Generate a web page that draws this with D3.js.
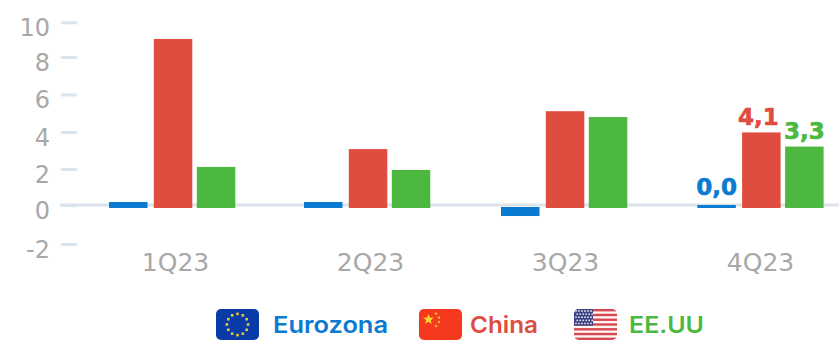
<!DOCTYPE html>
<html>
<head>
<meta charset="utf-8">
<script src="https://cdn.jsdelivr.net/npm/d3@7"></script>
<style>
html,body{margin:0;padding:0;background:#fff;overflow:hidden}
svg{display:block}
.tick text{font-family:"DejaVu Sans",sans-serif;fill:#a8a8a8}
.tick{opacity:0.999}
</style>
</head>
<body>
<svg id="chart" width="839" height="340"></svg>
<script>
const quarters = ["1Q23", "2Q23", "3Q23", "4Q23"];
const seriesNames = ["Eurozona", "China", "EE.UU"];
const seriesColors = ["#0b7ad1", "#df4c40", "#4cb840"];
const eurozona = [0.17, 0.17, -0.6, 0.0];
const china = [9.38, 3.16, 5.3, 4.1];
const eeuu = [2.15, 1.98, 4.97, 3.3];
const seriesValues = [eurozona, china, eeuu];
const yTicks = [-2, 0, 2, 4, 6, 8, 10];
const yTickPixels = [244, 205, 169, 132, 94.5, 57, 22.3];
const labelledQuarter = "4Q23";

const svg = d3.select("#chart");
const fmt = v => v.toFixed(1).replace(".", ",");

// Axis calibration and the bar scale
const yAxisScale = d3.scaleLinear().domain(yTicks).range(yTickPixels);
const yBar = d3.scaleLinear().domain([0, 10]).range([205, 28]);
const xGroup = d3.scaleOrdinal().domain(quarters).range([109, 304, 501, 697.3]);
const xInner = d3.scaleOrdinal().domain(seriesNames).range([0, 44.8, 87.8]);
const barW = 38.5;
const lineColor = "#dbe4ec";

// Vertical axis with short dashes
const yAxis = d3.axisLeft(yAxisScale).tickValues(yTicks).tickSize(16).tickPadding(11)
  .tickFormat(d => d);
const gy = svg.append("g").attr("transform", "translate(77,0)").call(yAxis);
gy.select(".domain").remove();
gy.selectAll(".tick line").attr("stroke", lineColor).attr("stroke-width", 3);
gy.selectAll(".tick text").attr("font-size", 24).attr("dy", "0.56em");

// Baseline across the plot
svg.append("line").attr("x1", 60).attr("x2", 839)
  .attr("y1", yBar(0)).attr("y2", yBar(0))
  .attr("stroke", lineColor).attr("stroke-width", 3);

// Category labels
const xLabels = d3.scalePoint().domain(quarters).range([175, 760]);
const gx = svg.append("g").attr("transform", "translate(0,271)")
  .call(d3.axisBottom(xLabels).tickSize(0).tickPadding(0));
gx.select(".domain").remove();
gx.selectAll(".tick text").attr("font-size", 25).attr("dy", 0);

// Bars, one group per series
seriesNames.forEach((name, si) => {
  svg.append("g").selectAll("rect")
    .data(seriesValues[si].map((v, i) => ({ v, q: quarters[i] })))
    .join("rect")
    .attr("x", d => xGroup(d.q) + xInner(name))
    .attr("width", barW)
    .attr("y", d => d.v >= 0 ? yBar(d.v) : yBar(0) + 2)
    .attr("height", d => d.v >= 0 ? yBar(0) + 3 - yBar(d.v) : yBar(d.v) - yBar(0) - 2 + 0.4)
    .attr("fill", seriesColors[si]);

  // Value label on the last quarter only
  const idx = quarters.indexOf(labelledQuarter);
  const v = seriesValues[si][idx];
  svg.append("text")
    .attr("x", xGroup(labelledQuarter) + xInner(name) + barW / 2 + [0, -3, 0][si])
    .attr("y", yBar(v) - [10, 7.5, 7.5][si])
    .attr("text-anchor", "middle")
    .attr("font-family", "'DejaVu Sans',sans-serif")
    .attr("font-weight", 700)
    .attr("font-size", 23)
    .attr("stroke", seriesColors[si])
    .attr("stroke-width", 0.6)
    .attr("fill", seriesColors[si])
    .text(fmt(v));
});

// Legend flags
function flagBase(x, id) {
  const g = svg.append("g").attr("transform", `translate(${x},309)`);
  g.append("clipPath").attr("id", id).append("rect")
    .attr("width", 43).attr("height", 31).attr("rx", 5);
  return g.append("g").attr("clip-path", `url(#${id})`);
}
function star(g, cx, cy, r, fill) {
  const pts = d3.range(10).map(i => {
    const a = -Math.PI / 2 + i * Math.PI / 5, rr = i % 2 ? r * 0.42 : r;
    return [cx + rr * Math.cos(a), cy + rr * Math.sin(a)];
  });
  g.append("polygon").attr("points", pts.join(" ")).attr("fill", fill);
}

const eu = flagBase(216, "clip-eu");
eu.append("rect").attr("width", 43).attr("height", 31).attr("fill", "#0a3aa5");
d3.range(12).forEach(i => {
  const a = i * Math.PI / 6;
  eu.append("rect")
    .attr("x", 21.5 + 10.6 * Math.cos(a) - 1.3)
    .attr("y", 15.5 + 10.6 * Math.sin(a) - 1.3)
    .attr("width", 2.6).attr("height", 2.6).attr("fill", "#e6c73c");
});

const cn = flagBase(419, "clip-cn");
cn.append("rect").attr("width", 43).attr("height", 31).attr("fill", "#f5391f");
star(cn, 9.5, 10.5, 5.6, "#fbd72b");
[[17, 4.5], [20, 8.5], [20, 13], [17, 17]].forEach(p => star(cn, p[0], p[1], 1.8, "#fbd72b"));

const us = flagBase(574, "clip-us");
us.append("rect").attr("width", 43).attr("height", 31).attr("fill", "#fdf6f4");
d3.range(7).forEach(i => {
  us.append("rect").attr("y", i * 4.77).attr("width", 43).attr("height", 2.4).attr("fill", "#d8474f");
});
us.append("rect").attr("width", 19).attr("height", 16.7).attr("fill", "#3a4384");
d3.range(5).forEach(r => d3.range(6).forEach(c => {
  us.append("circle").attr("cx", 2 + c * 3 + (r % 2 ? 1.2 : 0)).attr("cy", 2 + r * 3.1)
    .attr("r", 0.9).attr("fill", "#e8e6f0");
}));

// Legend labels
const legendX = [273, 470, 629];
const legendW = [115, 68, 75];
seriesNames.forEach((name, i) => {
  svg.append("text").attr("x", legendX[i]).attr("y", 333)
    .attr("font-family", "Inter,sans-serif").attr("font-weight", 600)
    .attr("font-size", 23).attr("textLength", legendW[i]).attr("lengthAdjust", "spacingAndGlyphs")
    .attr("fill", seriesColors[i]).text(name);
});
</script>
</body>
</html>
